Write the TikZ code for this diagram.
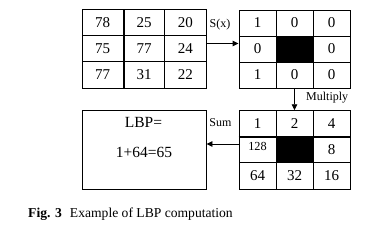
\documentclass[tikz,border=0pt]{standalone}
\usepackage{fontspec}
\setmainfont{Liberation Serif}
\usetikzlibrary{arrows.meta,calc}
\begin{document}
\begin{tikzpicture}[x=1pt,y=-1pt,
  cellA/.style={draw,line width=0.9pt,minimum width=41.33pt,minimum height=26.17pt,inner sep=0pt,font=\fontsize{15}{17}\selectfont},
  cellB/.style={draw,line width=0.9pt,minimum width=37pt,minimum height=26pt,inner sep=0pt,font=\fontsize{15}{17}\selectfont},
  blk/.style={fill=black},
  lbl/.style={font=\fontsize{12}{14}\selectfont,inner sep=0pt},
  arr/.style={line width=0.9pt,-{Triangle[length=6pt,width=5.5pt]}},
  thick line/.style={line width=1.6pt}
]
\useasboundingbox (0,0) rectangle (391,234);
% grid 1
\foreach \r/\y in {1/22.6,2/48.8,3/74.9}{
  \foreach \c/\x in {1/102.67,2/144,3/185.33}{
    \node[cellA] (g1-\r\c) at (\x,\y) {};
  }
}
\node[font=\fontsize{15}{17}\selectfont] at (g1-11) {78};
\node[font=\fontsize{15}{17}\selectfont] at (g1-12) {25};
\node[font=\fontsize{15}{17}\selectfont] at (g1-13) {20};
\node[font=\fontsize{15}{17}\selectfont] at (g1-21) {75};
\node[font=\fontsize{15}{17}\selectfont] at (g1-22) {77};
\node[font=\fontsize{15}{17}\selectfont] at (g1-23) {24};
\node[font=\fontsize{15}{17}\selectfont] at (g1-31) {77};
\node[font=\fontsize{15}{17}\selectfont] at (g1-32) {31};
\node[font=\fontsize{15}{17}\selectfont] at (g1-33) {22};
\draw[thick line] (g1-11.north east) -- (g1-31.south east);
% grid 2
\foreach \r/\y in {1/23,2/49,3/75}{
  \foreach \c/\x in {1/257.5,2/294.5,3/331.5}{
    \node[cellB] (g2-\r\c) at (\x,\y) {};
  }
}
\node[cellB,blk] at (g2-22) {};
\node[font=\fontsize{15}{17}\selectfont] at (g2-11) {1};
\node[font=\fontsize{15}{17}\selectfont] at (g2-12) {0};
\node[font=\fontsize{15}{17}\selectfont] at (g2-13) {0};
\node[font=\fontsize{15}{17}\selectfont] at (g2-21) {0};
\node[font=\fontsize{15}{17}\selectfont] at (g2-23) {0};
\node[font=\fontsize{15}{17}\selectfont] at (g2-31) {1};
\node[font=\fontsize{15}{17}\selectfont] at (g2-32) {0};
\node[font=\fontsize{15}{17}\selectfont] at (g2-33) {0};
% grid 3
\foreach \r/\y in {1/123.75,2/149.85,3/175.95}{
  \foreach \c/\x in {1/257.5,2/294.5,3/331.5}{
    \node[cellB,minimum height=26.1pt] (g3-\r\c) at (\x,\y) {};
  }
}
\node[cellB,minimum height=26.1pt,blk] at (g3-22) {};
\node[font=\fontsize{15}{17}\selectfont] at (g3-11) {1};
\node[font=\fontsize{15}{17}\selectfont] at (g3-12) {2};
\node[font=\fontsize{15}{17}\selectfont] at (g3-13) {4};
\node[font=\fontsize{12.3}{14}\selectfont] at ($(g3-21)+(0,-3)$) {128};
\node[font=\fontsize{15}{17}\selectfont] at (g3-23) {8};
\node[font=\fontsize{15}{17}\selectfont] at (g3-31) {64};
\node[font=\fontsize{15}{17}\selectfont] at (g3-32) {32};
\node[font=\fontsize{15}{17}\selectfont] at (g3-33) {16};
\draw[thick line] (g3-11.south west) -- (g3-13.south east);
% LBP box
\node[draw,line width=0.9pt,minimum width=124pt,minimum height=78.3pt,inner sep=0pt] (lbp) at (144,149.85) {};
\node[font=\fontsize{15.5}{17}\selectfont] (lbpa) at (143.5,122.5) {LBP=};
\node[font=\fontsize{15.5}{17}\selectfont] (lbpb) at (144,152) {1+64=65};
% arrows
\draw[arr] (g1-23.east |- 0,43.5) -- (g2-21.west |- 0,43.5);
\node[lbl] (sx) at (220,25) {S(x)};
\draw[arr] (g2-32.south) -- (g3-12.north);
\node[lbl,anchor=west] (mul) at (306,97.5) {Multiply};
\draw[arr] (g3-21.west |- 0,144) -- (lbp.east |- 0,144);
\node[lbl] (sum) at (220.5,122.5) {Sum};
% caption
\node[anchor=base west,inner sep=0pt,font=\fontsize{13.6}{15}\selectfont] (cap) at (28,217.3) {\textbf{Fig. 3}\hspace{0.6em}Example of LBP computation};
\end{tikzpicture}
\end{document}
